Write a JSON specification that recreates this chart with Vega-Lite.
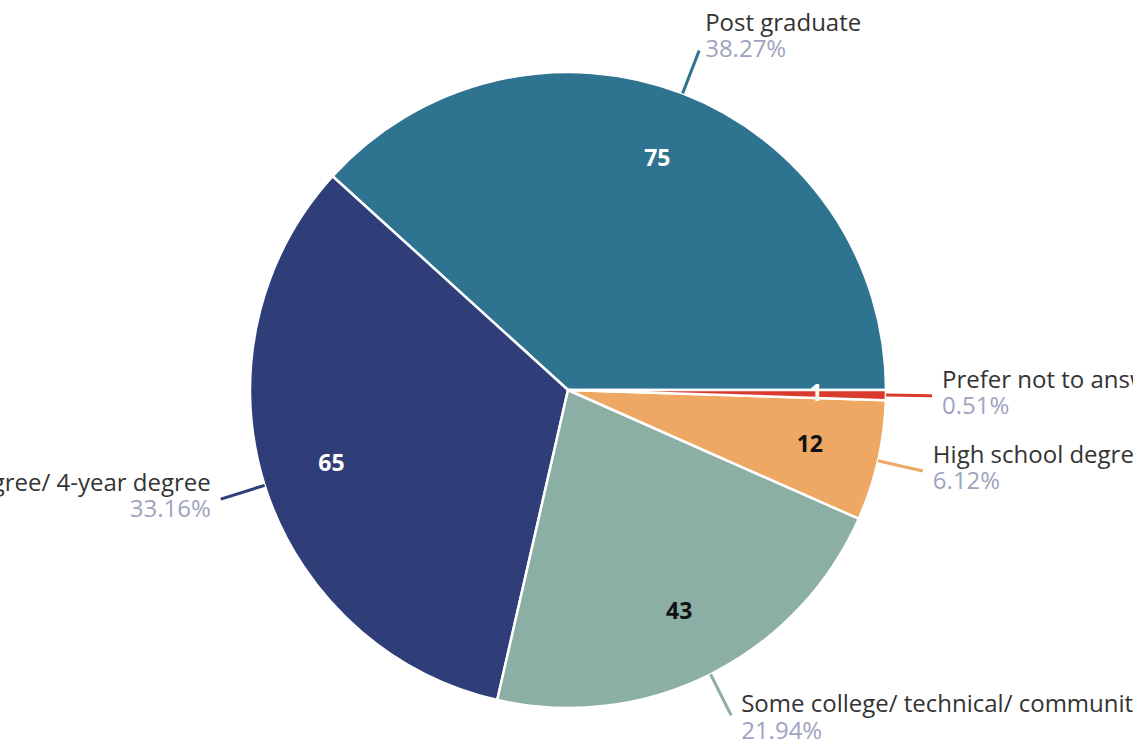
{
  "$schema": "https://vega.github.io/schema/vega-lite/v6.json",
  "autosize": "none",
  "width": 1130,
  "height": 710,
  "padding": {"left": 3, "right": 0, "top": 35, "bottom": 0},
  "background": "white",
  "config": {"view": {"stroke": null}, "text": {"font": "Open Sans"}},
  "data": {
    "values": [
      {"category": "Post graduate", "count": 75, "pct": "38.27%"},
      {"category": "Bachelor's degree/ 4-year degree", "count": 65, "pct": "33.16%"},
      {"category": "Some college/ technical/ community college", "count": 43, "pct": "21.94%"},
      {"category": "High school degree or equivalent", "count": 12, "pct": "6.12%"},
      {"category": "Prefer not to answer", "count": 1, "pct": "0.51%"}
    ]
  },
  "encoding": {
    "theta": {"field": "count", "type": "quantitative", "stack": true, "scale": {"range": [1.5707963, 7.8539816]}},
    "order": {"field": "count", "sort": "ascending"},
    "color": {
      "field": "category",
      "type": "nominal",
      "legend": null,
      "scale": {
        "domain": ["Post graduate", "Bachelor's degree/ 4-year degree", "Some college/ technical/ community college", "High school degree or equivalent", "Prefer not to answer"],
        "range": ["#2e7390", "#2f3e78", "#8baea5", "#eea863", "#d93a2b"]
      }
    }
  },
  "layer": [
    {"mark": {"type": "arc", "outerRadius": 318, "stroke": "white", "strokeWidth": 2.5}},
    {
      "mark": {"type": "arc", "innerRadius": 318, "outerRadius": 364, "padAngle": 3, "filled": false, "strokeWidth": 3},
      "encoding": {
        "stroke": {
          "field": "category",
          "type": "nominal",
          "legend": null,
          "scale": {
            "domain": ["Post graduate", "Bachelor's degree/ 4-year degree", "Some college/ technical/ community college", "High school degree or equivalent", "Prefer not to answer"],
            "range": ["#2e7390", "#2f3e78", "#8baea5", "#eea863", "#d93a2b"]
          }
        }
      }
    },
    {
      "mark": {"type": "text", "radius": 248, "fontSize": 23, "fontWeight": "bold", "baseline": "middle", "align": "center"},
      "encoding": {
        "text": {"field": "count", "type": "quantitative"},
        "color": {"condition": {"test": "datum.count === 43 || datum.count === 12", "value": "#111111"}, "value": "white"}
      }
    },
    {
      "mark": {
        "type": "text", "radius": 364, "fontSize": 24, "baseline": "middle",
        "align": {"expr": "datum.category === \"Bachelor's degree/ 4-year degree\" ? 'right' : 'left'"},
        "dx": {"expr": "datum.category === \"Bachelor's degree/ 4-year degree\" ? -10 : datum.category === 'Post graduate' ? 6 : 10"},
        "dy": {"expr": "datum.category === 'Post graduate' ? -26 : datum.category === 'Some college/ technical/ community college' ? -10 : -15"}
      },
      "encoding": {"text": {"field": "category"}, "color": {"value": "#333333"}}
    },
    {
      "mark": {
        "type": "text", "radius": 364, "fontSize": 24, "baseline": "middle",
        "align": {"expr": "datum.category === \"Bachelor's degree/ 4-year degree\" ? 'right' : 'left'"},
        "dx": {"expr": "datum.category === \"Bachelor's degree/ 4-year degree\" ? -10 : datum.category === 'Post graduate' ? 6 : 10"},
        "dy": {"expr": "datum.category === 'Post graduate' ? 0 : datum.category === 'Some college/ technical/ community college' ? 17 : 11"}
      },
      "encoding": {"text": {"field": "pct"}, "color": {"value": "#9ea3c0"}}
    }
  ]
}
